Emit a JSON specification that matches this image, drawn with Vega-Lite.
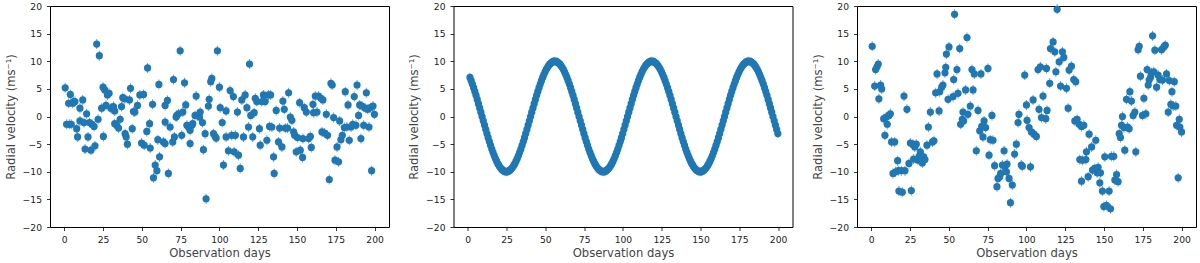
{
  "$schema": "https://vega.github.io/schema/vega-lite/v6.json",
  "padding": {"left": 4, "top": 1, "right": 0, "bottom": 0},
  "bounds": "flush",
  "spacing": 64.5,
  "config": {
    "font": "DejaVu Sans",
    "view": {"stroke": "#000000", "strokeWidth": 1},
    "axis": {
      "domain": false, "grid": false, "ticks": true,
      "tickColor": "#000000", "tickSize": 3.5, "tickWidth": 0.8,
      "labelFont": "DejaVu Sans", "labelFontSize": 9.2, "labelColor": "#222222", "labelPadding": 5,
      "titleFont": "DejaVu Sans", "titleFontSize": 11.6, "titleFontWeight": "normal", "titleColor": "#444444"
    },
    "axisX": {"titlePadding": 3, "labelFlush": false},
    "axisY": {"titlePadding": 6, "labelExpr": "replace(datum.label, '-', '−')"}
  },
  "datasets": {
    "noise": [
      {"day":0.6,"rv":5.2},{"day":1.5,"rv":-1.4},{"day":2.8,"rv":2.4},{"day":3.2,"rv":-1.4},{"day":3.9,"rv":4.0},{"day":4.5,"rv":-1.4},{"day":5.4,"rv":2.4},{"day":6.0,"rv":2.7},{"day":6.9,"rv":2.7},{"day":8.0,"rv":-2.2},
      {"day":8.6,"rv":-3.7},{"day":10.1,"rv":1.5},{"day":10.1,"rv":-0.8},{"day":11.9,"rv":3.0},{"day":12.7,"rv":-1.1},{"day":13.4,"rv":-5.9},{"day":14.4,"rv":0.5},{"day":15.3,"rv":-3.7},{"day":16.2,"rv":-1.1},{"day":17.2,"rv":-6.1},
      {"day":17.9,"rv":-1.4},{"day":19.2,"rv":-1.8},{"day":19.8,"rv":-5.3},{"day":20.9,"rv":13.1},{"day":21.8,"rv":-0.5},{"day":22.6,"rv":11.0},{"day":24.1,"rv":1.5},{"day":25.0,"rv":5.3},{"day":25.2,"rv":-3.6},{"day":26.1,"rv":4.8},
      {"day":26.9,"rv":2.0},{"day":27.8,"rv":3.9},{"day":28.9,"rv":4.2},{"day":30.0,"rv":1.5},{"day":30.8,"rv":1.5},{"day":31.7,"rv":1.8},{"day":32.5,"rv":1.0},{"day":32.5,"rv":-1.3},{"day":33.8,"rv":-1.6},{"day":35.0,"rv":-2.1},
      {"day":36.0,"rv":-0.5},{"day":36.9,"rv":1.8},{"day":37.7,"rv":3.4},{"day":39.0,"rv":3.2},{"day":39.2,"rv":-3.1},{"day":39.9,"rv":-3.7},{"day":40.7,"rv":-5.0},{"day":42.0,"rv":3.0},{"day":42.7,"rv":5.1},{"day":43.8,"rv":-2.2},
      {"day":44.6,"rv":0.9},{"day":45.5,"rv":0.8},{"day":47.2,"rv":2.0},{"day":48.7,"rv":3.9},{"day":49.8,"rv":-4.8},{"day":51.1,"rv":4.0},{"day":51.5,"rv":-5.2},{"day":53.2,"rv":-2.7},{"day":53.7,"rv":8.8},{"day":55.0,"rv":-1.3},
      {"day":55.4,"rv":-5.7},{"day":56.9,"rv":2.2},{"day":57.5,"rv":-11.1},{"day":58.6,"rv":-8.8},{"day":59.7,"rv":-9.8},{"day":60.3,"rv":-4.2},{"day":61.0,"rv":5.8},{"day":61.4,"rv":-7.3},{"day":63.9,"rv":-4.6},{"day":65.0,"rv":2.0},
      {"day":66.5,"rv":2.9},{"day":65.0,"rv":-1.0},{"day":65.0,"rv":-4.9},{"day":67.1,"rv":-10.3},{"day":68.2,"rv":-1.9},{"day":69.9,"rv":-4.6},{"day":70.4,"rv":6.7},{"day":71.0,"rv":-3.7},{"day":72.1,"rv":-0.1},{"day":72.5,"rv":0.2},
      {"day":73.6,"rv":0.5},{"day":74.7,"rv":11.9},{"day":75.7,"rv":-3.4},{"day":76.4,"rv":0.8},{"day":77.5,"rv":6.1},{"day":78.3,"rv":2.1},{"day":79.0,"rv":-1.6},{"day":80.0,"rv":-1.9},{"day":81.1,"rv":-2.5},{"day":82.2,"rv":-1.6},
      {"day":81.1,"rv":-4.9},{"day":82.8,"rv":-1.3},{"day":84.3,"rv":0.2},{"day":85.0,"rv":3.7},{"day":85.8,"rv":0.2},{"day":87.1,"rv":-0.1},{"day":87.6,"rv":0.8},{"day":89.1,"rv":-1.1},{"day":89.7,"rv":-6.0},{"day":90.8,"rv":-3.1},
      {"day":91.4,"rv":-14.9},{"day":92.9,"rv":1.9},{"day":93.4,"rv":3.1},{"day":94.4,"rv":6.3},{"day":95.1,"rv":6.9},{"day":96.2,"rv":-3.1},{"day":97.2,"rv":-3.6},{"day":97.9,"rv":-3.9},{"day":98.7,"rv":11.9},{"day":100.0,"rv":5.3},
      {"day":100.5,"rv":1.6},{"day":101.8,"rv":-1.1},{"day":102.6,"rv":-8.8},{"day":104.3,"rv":1.0},{"day":104.3,"rv":-3.7},{"day":105.8,"rv":-6.2},{"day":106.9,"rv":4.7},{"day":107.9,"rv":-3.4},{"day":109.0,"rv":3.6},{"day":109.5,"rv":-6.4},
      {"day":110.3,"rv":-3.4},{"day":111.6,"rv":0.8},{"day":112.3,"rv":-7.0},{"day":113.4,"rv":-9.4},{"day":114.4,"rv":3.0},{"day":115.5,"rv":-3.7},{"day":116.6,"rv":3.9},{"day":117.7,"rv":1.6},{"day":118.7,"rv":-1.9},{"day":119.4,"rv":9.5},
      {"day":120.2,"rv":0.2},{"day":121.5,"rv":-3.7},{"day":122.4,"rv":0.7},{"day":123.1,"rv":3.3},{"day":124.1,"rv":2.7},{"day":125.8,"rv":-2.2},{"day":126.3,"rv":-5.2},{"day":127.3,"rv":2.7},{"day":128.4,"rv":3.9},{"day":129.5,"rv":2.7},
      {"day":130.6,"rv":-4.3},{"day":131.6,"rv":3.9},{"day":132.3,"rv":-1.8},{"day":133.0,"rv":3.9},{"day":133.8,"rv":-1.9},{"day":134.9,"rv":-7.3},{"day":135.3,"rv":-10.3},{"day":136.6,"rv":1.1},{"day":138.1,"rv":-4.6},{"day":138.8,"rv":-2.1},
      {"day":140.3,"rv":-5.5},{"day":140.9,"rv":2.8},{"day":141.8,"rv":1.3},{"day":142.4,"rv":-2.1},{"day":143.9,"rv":-2.1},{"day":144.6,"rv":4.3},{"day":145.7,"rv":-0.1},{"day":146.7,"rv":-0.7},{"day":147.8,"rv":-2.8},{"day":148.5,"rv":-3.4},
      {"day":149.5,"rv":-6.4},{"day":150.4,"rv":-3.8},{"day":151.7,"rv":2.5},{"day":152.1,"rv":-6.1},{"day":153.6,"rv":-7.4},{"day":153.8,"rv":-4.0},{"day":154.7,"rv":1.6},{"day":156.0,"rv":0.8},{"day":157.5,"rv":-4.0},{"day":158.6,"rv":-3.6},
      {"day":159.2,"rv":-5.6},{"day":160.3,"rv":2.2},{"day":160.7,"rv":0.7},{"day":161.8,"rv":3.7},{"day":162.9,"rv":0.8},{"day":163.9,"rv":3.7},{"day":165.4,"rv":3.3},{"day":166.1,"rv":-2.8},{"day":166.7,"rv":3.0},{"day":167.8,"rv":-3.0},
      {"day":168.9,"rv":0.4},{"day":169.7,"rv":-3.4},{"day":170.8,"rv":-11.4},{"day":171.9,"rv":6.0},{"day":172.7,"rv":5.7},{"day":173.6,"rv":-0.2},{"day":174.5,"rv":-7.9},{"day":175.8,"rv":-5.5},{"day":176.8,"rv":-8.2},{"day":177.5,"rv":-0.8},
      {"day":178.3,"rv":-4.2},{"day":179.2,"rv":-3.4},{"day":180.5,"rv":-2.0},{"day":181.1,"rv":4.5},{"day":182.2,"rv":-1.9},{"day":182.9,"rv":2.1},{"day":183.7,"rv":-4.3},{"day":184.8,"rv":-1.9},{"day":185.9,"rv":-1.4},{"day":186.9,"rv":3.6},
      {"day":188.0,"rv":-1.6},{"day":188.7,"rv":5.7},{"day":189.7,"rv":0.2},{"day":190.4,"rv":2.1},{"day":191.2,"rv":-4.0},{"day":191.9,"rv":1.9},{"day":193.0,"rv":-1.6},{"day":194.0,"rv":1.5},{"day":194.7,"rv":4.3},{"day":195.6,"rv":1.3},
      {"day":196.4,"rv":-1.9},{"day":197.3,"rv":1.6},{"day":198.1,"rv":-9.8},{"day":199.0,"rv":1.9},{"day":199.9,"rv":0.4}
    ],
    "signal": [
      {"day":1.41,"rv":7.07},{"day":2.97,"rv":5.88},{"day":4.54,"rv":4.54},{"day":6.10,"rv":3.09},{"day":7.66,"rv":1.56},{"day":9.22,"rv":0},{"day":10.79,"rv":-1.56},{"day":12.35,"rv":-3.09},
      {"day":13.91,"rv":-4.54},{"day":15.47,"rv":-5.88},{"day":17.04,"rv":-7.07},{"day":18.60,"rv":-8.09},{"day":20.16,"rv":-8.91},{"day":21.72,"rv":-9.51},{"day":23.29,"rv":-9.88},{"day":24.85,"rv":-10},
      {"day":26.41,"rv":-9.88},{"day":27.97,"rv":-9.51},{"day":29.54,"rv":-8.91},{"day":31.10,"rv":-8.09},{"day":32.66,"rv":-7.07},{"day":34.22,"rv":-5.88},{"day":35.79,"rv":-4.54},{"day":37.35,"rv":-3.09},
      {"day":38.91,"rv":-1.56},{"day":40.47,"rv":0},{"day":42.04,"rv":1.56},{"day":43.60,"rv":3.09},{"day":45.16,"rv":4.54},{"day":46.72,"rv":5.88},{"day":48.29,"rv":7.07},{"day":49.85,"rv":8.09},
      {"day":51.41,"rv":8.91},{"day":52.97,"rv":9.51},{"day":54.54,"rv":9.88},{"day":56.10,"rv":10},{"day":57.66,"rv":9.88},{"day":59.22,"rv":9.51},{"day":60.79,"rv":8.91},{"day":62.35,"rv":8.09},
      {"day":63.91,"rv":7.07},{"day":65.47,"rv":5.88},{"day":67.04,"rv":4.54},{"day":68.60,"rv":3.09},{"day":70.16,"rv":1.56},{"day":71.72,"rv":0},{"day":73.29,"rv":-1.56},{"day":74.85,"rv":-3.09},
      {"day":76.41,"rv":-4.54},{"day":77.97,"rv":-5.88},{"day":79.54,"rv":-7.07},{"day":81.10,"rv":-8.09},{"day":82.66,"rv":-8.91},{"day":84.22,"rv":-9.51},{"day":85.79,"rv":-9.88},{"day":87.35,"rv":-10},
      {"day":88.91,"rv":-9.88},{"day":90.47,"rv":-9.51},{"day":92.04,"rv":-8.91},{"day":93.60,"rv":-8.09},{"day":95.16,"rv":-7.07},{"day":96.72,"rv":-5.88},{"day":98.29,"rv":-4.54},{"day":99.85,"rv":-3.09},
      {"day":101.41,"rv":-1.56},{"day":102.97,"rv":0},{"day":104.54,"rv":1.56},{"day":106.10,"rv":3.09},{"day":107.66,"rv":4.54},{"day":109.22,"rv":5.88},{"day":110.79,"rv":7.07},{"day":112.35,"rv":8.09},
      {"day":113.91,"rv":8.91},{"day":115.47,"rv":9.51},{"day":117.04,"rv":9.88},{"day":118.60,"rv":10},{"day":120.16,"rv":9.88},{"day":121.72,"rv":9.51},{"day":123.29,"rv":8.91},{"day":124.85,"rv":8.09},
      {"day":126.41,"rv":7.07},{"day":127.97,"rv":5.88},{"day":129.54,"rv":4.54},{"day":131.10,"rv":3.09},{"day":132.66,"rv":1.56},{"day":134.22,"rv":0},{"day":135.79,"rv":-1.56},{"day":137.35,"rv":-3.09},
      {"day":138.91,"rv":-4.54},{"day":140.47,"rv":-5.88},{"day":142.04,"rv":-7.07},{"day":143.60,"rv":-8.09},{"day":145.16,"rv":-8.91},{"day":146.72,"rv":-9.51},{"day":148.29,"rv":-9.88},{"day":149.85,"rv":-10},
      {"day":151.41,"rv":-9.88},{"day":152.97,"rv":-9.51},{"day":154.54,"rv":-8.91},{"day":156.10,"rv":-8.09},{"day":157.66,"rv":-7.07},{"day":159.22,"rv":-5.88},{"day":160.79,"rv":-4.54},{"day":162.35,"rv":-3.09},
      {"day":163.91,"rv":-1.56},{"day":165.47,"rv":0},{"day":167.04,"rv":1.56},{"day":168.60,"rv":3.09},{"day":170.16,"rv":4.54},{"day":171.72,"rv":5.88},{"day":173.29,"rv":7.07},{"day":174.85,"rv":8.09},
      {"day":176.41,"rv":8.91},{"day":177.97,"rv":9.51},{"day":179.54,"rv":9.88},{"day":181.10,"rv":10},{"day":182.66,"rv":9.88},{"day":184.22,"rv":9.51},{"day":185.79,"rv":8.91},{"day":187.35,"rv":8.09},
      {"day":188.91,"rv":7.07},{"day":190.47,"rv":5.88},{"day":192.04,"rv":4.54},{"day":193.60,"rv":3.09},{"day":195.16,"rv":1.56},{"day":196.72,"rv":0},{"day":198.29,"rv":-1.56},{"day":199.85,"rv":-3.09},
      {"day":2.19,"rv":6.49},{"day":3.75,"rv":5.22},{"day":5.32,"rv":3.83},{"day":6.88,"rv":2.33},{"day":8.44,"rv":0.78},{"day":10.00,"rv":-0.78},{"day":11.57,"rv":-2.33},{"day":13.13,"rv":-3.83},
      {"day":14.69,"rv":-5.22},{"day":16.25,"rv":-6.49},{"day":17.82,"rv":-7.60},{"day":19.38,"rv":-8.53},{"day":20.94,"rv":-9.24},{"day":22.50,"rv":-9.72},{"day":24.07,"rv":-9.97},{"day":25.63,"rv":-9.97},
      {"day":27.19,"rv":-9.72},{"day":28.75,"rv":-9.24},{"day":30.32,"rv":-8.53},{"day":31.88,"rv":-7.60},{"day":33.44,"rv":-6.49},{"day":35.00,"rv":-5.22},{"day":36.57,"rv":-3.83},{"day":38.13,"rv":-2.33},
      {"day":39.69,"rv":-0.78},{"day":41.25,"rv":0.78},{"day":42.82,"rv":2.33},{"day":44.38,"rv":3.83},{"day":45.94,"rv":5.22},{"day":47.50,"rv":6.49},{"day":49.07,"rv":7.60},{"day":50.63,"rv":8.53},
      {"day":52.19,"rv":9.24},{"day":53.75,"rv":9.72},{"day":55.32,"rv":9.97},{"day":56.88,"rv":9.97},{"day":58.44,"rv":9.72},{"day":60.00,"rv":9.24},{"day":61.57,"rv":8.53},{"day":63.13,"rv":7.60},
      {"day":64.69,"rv":6.49},{"day":66.25,"rv":5.22},{"day":67.82,"rv":3.83},{"day":69.38,"rv":2.33},{"day":70.94,"rv":0.78},{"day":72.50,"rv":-0.78},{"day":74.07,"rv":-2.33},{"day":75.63,"rv":-3.83},
      {"day":77.19,"rv":-5.22},{"day":78.75,"rv":-6.49},{"day":80.32,"rv":-7.60},{"day":81.88,"rv":-8.53},{"day":83.44,"rv":-9.24},{"day":85.00,"rv":-9.72},{"day":86.57,"rv":-9.97},{"day":88.13,"rv":-9.97},
      {"day":89.69,"rv":-9.72},{"day":91.25,"rv":-9.24},{"day":92.82,"rv":-8.53},{"day":94.38,"rv":-7.60},{"day":95.94,"rv":-6.49},{"day":97.50,"rv":-5.22},{"day":99.07,"rv":-3.83},{"day":100.63,"rv":-2.33},
      {"day":102.19,"rv":-0.78},{"day":103.75,"rv":0.78},{"day":105.32,"rv":2.33},{"day":106.88,"rv":3.83},{"day":108.44,"rv":5.22},{"day":110.00,"rv":6.49},{"day":111.57,"rv":7.60},{"day":113.13,"rv":8.53},
      {"day":114.69,"rv":9.24},{"day":116.25,"rv":9.72},{"day":117.82,"rv":9.97},{"day":119.38,"rv":9.97},{"day":120.94,"rv":9.72},{"day":122.50,"rv":9.24},{"day":124.07,"rv":8.53},{"day":125.63,"rv":7.60},
      {"day":127.19,"rv":6.49},{"day":128.75,"rv":5.22},{"day":130.32,"rv":3.83},{"day":131.88,"rv":2.33},{"day":133.44,"rv":0.78},{"day":135.00,"rv":-0.78},{"day":136.57,"rv":-2.33},{"day":138.13,"rv":-3.83},
      {"day":139.69,"rv":-5.22},{"day":141.25,"rv":-6.49},{"day":142.82,"rv":-7.60},{"day":144.38,"rv":-8.53},{"day":145.94,"rv":-9.24},{"day":147.50,"rv":-9.72},{"day":149.07,"rv":-9.97},{"day":150.63,"rv":-9.97},
      {"day":152.19,"rv":-9.72},{"day":153.75,"rv":-9.24},{"day":155.32,"rv":-8.53},{"day":156.88,"rv":-7.60},{"day":158.44,"rv":-6.49},{"day":160.00,"rv":-5.22},{"day":161.57,"rv":-3.83},{"day":163.13,"rv":-2.33},
      {"day":164.69,"rv":-0.78},{"day":166.25,"rv":0.78},{"day":167.82,"rv":2.33},{"day":169.38,"rv":3.83},{"day":170.94,"rv":5.22},{"day":172.50,"rv":6.49},{"day":174.07,"rv":7.60},{"day":175.63,"rv":8.53},
      {"day":177.19,"rv":9.24},{"day":178.75,"rv":9.72},{"day":180.32,"rv":9.97},{"day":181.88,"rv":9.97},{"day":183.44,"rv":9.72},{"day":185.00,"rv":9.24},{"day":186.57,"rv":8.53},{"day":188.13,"rv":7.60},
      {"day":189.69,"rv":6.49},{"day":191.25,"rv":5.22},{"day":192.82,"rv":3.83},{"day":194.38,"rv":2.33},{"day":195.94,"rv":0.78},{"day":197.50,"rv":-0.78},{"day":199.07,"rv":-2.33}
    ],
    "observed": [
      {"day":0.6,"rv":12.7},{"day":2.2,"rv":5.5},{"day":2.8,"rv":8.5},{"day":3.7,"rv":9.0},{"day":4.5,"rv":9.5},{"day":4.9,"rv":3.2},{"day":6.0,"rv":5.7},{"day":6.7,"rv":5.0},{"day":8.0,"rv":-0.4},{"day":8.8,"rv":-3.4},
      {"day":9.7,"rv":-0.1},{"day":10.3,"rv":-1.4},{"day":11.4,"rv":0.2},{"day":12.3,"rv":0.5},{"day":13.1,"rv":-4.6},{"day":14.0,"rv":-10.3},{"day":15.1,"rv":-4.6},{"day":15.7,"rv":-10.0},{"day":17.0,"rv":-8.0},{"day":17.4,"rv":-9.8},
      {"day":17.8,"rv":-13.5},{"day":19.4,"rv":-9.8},{"day":20.0,"rv":-13.7},{"day":21.1,"rv":3.7},{"day":21.7,"rv":-9.8},{"day":23.0,"rv":1.3},{"day":24.3,"rv":-8.5},{"day":25.2,"rv":-4.8},{"day":25.8,"rv":-13.4},{"day":26.9,"rv":-5.0},
      {"day":27.3,"rv":-7.7},{"day":28.0,"rv":-5.5},{"day":29.0,"rv":-5.0},{"day":30.1,"rv":-7.9},{"day":30.8,"rv":-7.2},{"day":31.6,"rv":-6.4},{"day":32.3,"rv":-7.2},{"day":32.9,"rv":-8.4},{"day":33.8,"rv":-7.3},{"day":34.6,"rv":-7.8},
      {"day":35.9,"rv":-5.2},{"day":36.8,"rv":-1.9},{"day":38.1,"rv":0.8},{"day":39.4,"rv":-4.6},{"day":40.4,"rv":-4.4},{"day":41.5,"rv":4.3},{"day":42.4,"rv":7.7},{"day":43.7,"rv":1.0},{"day":44.1,"rv":4.5},{"day":45.4,"rv":5.3},
      {"day":46.2,"rv":5.7},{"day":47.5,"rv":7.9},{"day":48.0,"rv":8.9},{"day":48.4,"rv":11.3},{"day":49.5,"rv":3.1},{"day":50.1,"rv":12.6},{"day":52.7,"rv":3.6},{"day":53.1,"rv":6.7},{"day":53.7,"rv":18.5},{"day":55.2,"rv":8.5},
      {"day":55.9,"rv":4.2},{"day":57.0,"rv":12.3},{"day":57.6,"rv":-1.4},{"day":58.7,"rv":-0.5},{"day":59.1,"rv":0.8},{"day":59.5,"rv":-0.8},{"day":60.8,"rv":4.8},{"day":61.7,"rv":14.3},{"day":62.3,"rv":0.4},{"day":63.8,"rv":1.9},
      {"day":64.9,"rv":8.5},{"day":65.6,"rv":4.8},{"day":66.4,"rv":7.7},{"day":67.7,"rv":-6.2},{"day":68.8,"rv":1.1},{"day":69.9,"rv":-2.6},{"day":70.7,"rv":7.7},{"day":71.2,"rv":-1.8},{"day":72.0,"rv":-3.7},{"day":72.7,"rv":-0.8},
      {"day":73.7,"rv":-2.0},{"day":75.2,"rv":8.7},{"day":75.9,"rv":-7.0},{"day":76.7,"rv":-4.2},{"day":77.8,"rv":0.2},{"day":78.5,"rv":-4.3},{"day":79.5,"rv":-8.9},{"day":81.0,"rv":-12.7},{"day":81.7,"rv":-11.2},{"day":82.8,"rv":-10.9},
      {"day":83.4,"rv":-10.3},{"day":84.5,"rv":-8.8},{"day":85.6,"rv":-6.2},{"day":86.2,"rv":-9.1},{"day":87.1,"rv":-10.0},{"day":87.5,"rv":-8.6},{"day":88.8,"rv":-11.2},{"day":89.7,"rv":-15.6},{"day":90.9,"rv":-12.4},{"day":92.4,"rv":-6.8},
      {"day":93.5,"rv":-5.0},{"day":94.6,"rv":-1.1},{"day":95.2,"rv":0.4},{"day":96.7,"rv":-8.8},{"day":97.4,"rv":-9.0},{"day":98.9,"rv":7.5},{"day":100.0,"rv":2.1},{"day":100.4,"rv":-0.7},{"day":101.7,"rv":-2.0},{"day":102.6,"rv":-9.1},
      {"day":103.2,"rv":-2.8},{"day":104.3,"rv":3.0},{"day":104.9,"rv":-3.2},{"day":106.4,"rv":-3.6},{"day":107.5,"rv":8.5},{"day":108.1,"rv":1.3},{"day":109.0,"rv":9.0},{"day":109.7,"rv":-0.2},{"day":110.7,"rv":3.7},{"day":112.5,"rv":-0.4},
      {"day":112.9,"rv":8.7},{"day":113.3,"rv":1.1},{"day":115.0,"rv":6.0},{"day":115.5,"rv":12.3},{"day":117.2,"rv":13.5},{"day":118.3,"rv":11.7},{"day":119.0,"rv":8.1},{"day":119.8,"rv":19.4},{"day":121.1,"rv":9.9},{"day":122.0,"rv":5.5},
      {"day":123.2,"rv":11.7},{"day":124.1,"rv":10.7},{"day":125.8,"rv":5.1},{"day":126.9,"rv":1.5},{"day":127.5,"rv":8.4},{"day":129.0,"rv":9.1},{"day":130.5,"rv":6.7},{"day":131.8,"rv":6.3},{"day":131.2,"rv":-0.8},{"day":132.7,"rv":-0.5},
      {"day":134.0,"rv":-1.4},{"day":135.5,"rv":-1.8},{"day":137.0,"rv":-1.6},{"day":134.4,"rv":-7.8},{"day":136.1,"rv":-7.9},{"day":135.5,"rv":-11.7},{"day":138.3,"rv":-7.8},{"day":138.7,"rv":-6.4},{"day":140.4,"rv":-3.2},{"day":139.8,"rv":-10.9},
      {"day":142.0,"rv":-5.5},{"day":142.6,"rv":-9.7},{"day":144.1,"rv":-9.4},{"day":144.7,"rv":-4.3},{"day":145.6,"rv":-10.2},{"day":146.2,"rv":-9.2},{"day":147.3,"rv":-12.0},{"day":147.7,"rv":-10.2},{"day":149.0,"rv":-13.5},{"day":149.9,"rv":-16.3},
      {"day":150.5,"rv":-7.3},{"day":151.6,"rv":-16.1},{"day":153.3,"rv":-13.5},{"day":154.2,"rv":-16.7},{"day":154.8,"rv":-7.2},{"day":156.3,"rv":-7.2},{"day":157.0,"rv":-11.5},{"day":158.1,"rv":-10.5},{"day":159.1,"rv":-11.8},{"day":159.8,"rv":-3.1},
      {"day":160.6,"rv":-3.8},{"day":161.3,"rv":-1.6},{"day":161.9,"rv":0.0},{"day":162.8,"rv":-2.0},{"day":163.4,"rv":-6.1},{"day":164.5,"rv":3.1},{"day":165.2,"rv":-1.9},{"day":166.2,"rv":-2.2},{"day":166.7,"rv":4.5},{"day":167.7,"rv":2.8},
      {"day":168.8,"rv":0.2},{"day":169.9,"rv":0.8},{"day":170.5,"rv":-6.4},{"day":172.0,"rv":12.1},{"day":172.7,"rv":12.7},{"day":173.5,"rv":7.3},{"day":174.8,"rv":0.2},{"day":175.7,"rv":3.3},{"day":177.0,"rv":0.5},{"day":177.8,"rv":8.5},
      {"day":178.5,"rv":5.7},{"day":179.1,"rv":6.6},{"day":180.0,"rv":7.1},{"day":180.6,"rv":7.9},{"day":181.3,"rv":14.6},{"day":182.1,"rv":8.1},{"day":182.8,"rv":12.0},{"day":183.9,"rv":5.3},{"day":184.9,"rv":7.5},{"day":186.0,"rv":6.7},
      {"day":187.1,"rv":12.1},{"day":187.7,"rv":6.6},{"day":188.6,"rv":12.6},{"day":189.5,"rv":12.9},{"day":190.3,"rv":7.7},{"day":191.4,"rv":0.8},{"day":192.1,"rv":6.5},{"day":193.1,"rv":2.2},{"day":193.8,"rv":4.5},{"day":194.6,"rv":1.9},
      {"day":195.3,"rv":6.3},{"day":196.3,"rv":1.9},{"day":196.8,"rv":-1.6},{"day":197.8,"rv":-11.1},{"day":198.5,"rv":-0.5},{"day":198.9,"rv":-1.9},{"day":200.0,"rv":-2.8}
    ]
  },
  "hconcat": [
    {
      "width": 339, "height": 221,
      "data": {"name": "noise"},
      "encoding": {
        "x": {"field": "day", "type": "quantitative", "scale": {"domain": [-9.2, 209.3], "nice": false, "zero": false}, "axis": {"values": [0, 25, 50, 75, 100, 125, 150, 175, 200], "title": "Observation days"}},
        "y": {"field": "rv", "type": "quantitative", "scale": {"domain": [-20, 20], "nice": false}, "axis": {"values": [-20, -15, -10, -5, 0, 5, 10, 15, 20], "title": "Radial velocity (ms⁻¹)"}}
      },
      "layer": [
        {"mark": {"type": "tick", "orient": "vertical", "size": 10, "thickness": 1, "color": "#1f77b4"}},
        {"mark": {"type": "point", "shape": "circle", "filled": true, "size": 52, "opacity": 1, "color": "#1f77b4"}}
      ]
    },
    {
      "width": 339, "height": 221,
      "data": {"name": "signal"},
      "encoding": {
        "x": {"field": "day", "type": "quantitative", "scale": {"domain": [-9.2, 209.3], "nice": false, "zero": false}, "axis": {"values": [0, 25, 50, 75, 100, 125, 150, 175, 200], "title": "Observation days"}},
        "y": {"field": "rv", "type": "quantitative", "scale": {"domain": [-20, 20], "nice": false}, "axis": {"values": [-20, -15, -10, -5, 0, 5, 10, 15, 20], "title": "Radial velocity (ms⁻¹)"}}
      },
      "layer": [
        {"mark": {"type": "tick", "orient": "vertical", "size": 9, "thickness": 1, "color": "#1f77b4"}},
        {"mark": {"type": "point", "shape": "circle", "filled": true, "size": 52, "opacity": 1, "color": "#1f77b4"}}
      ]
    },
    {
      "width": 339, "height": 221,
      "data": {"name": "observed"},
      "encoding": {
        "x": {"field": "day", "type": "quantitative", "scale": {"domain": [-9.2, 209.3], "nice": false, "zero": false}, "axis": {"values": [0, 25, 50, 75, 100, 125, 150, 175, 200], "title": "Observation days"}},
        "y": {"field": "rv", "type": "quantitative", "scale": {"domain": [-20, 20], "nice": false}, "axis": {"values": [-20, -15, -10, -5, 0, 5, 10, 15, 20], "title": "Radial velocity (ms⁻¹)"}}
      },
      "layer": [
        {"mark": {"type": "tick", "orient": "vertical", "size": 10, "thickness": 1, "color": "#1f77b4"}},
        {"mark": {"type": "point", "shape": "circle", "filled": true, "size": 52, "opacity": 1, "color": "#1f77b4"}}
      ]
    }
  ]
}
